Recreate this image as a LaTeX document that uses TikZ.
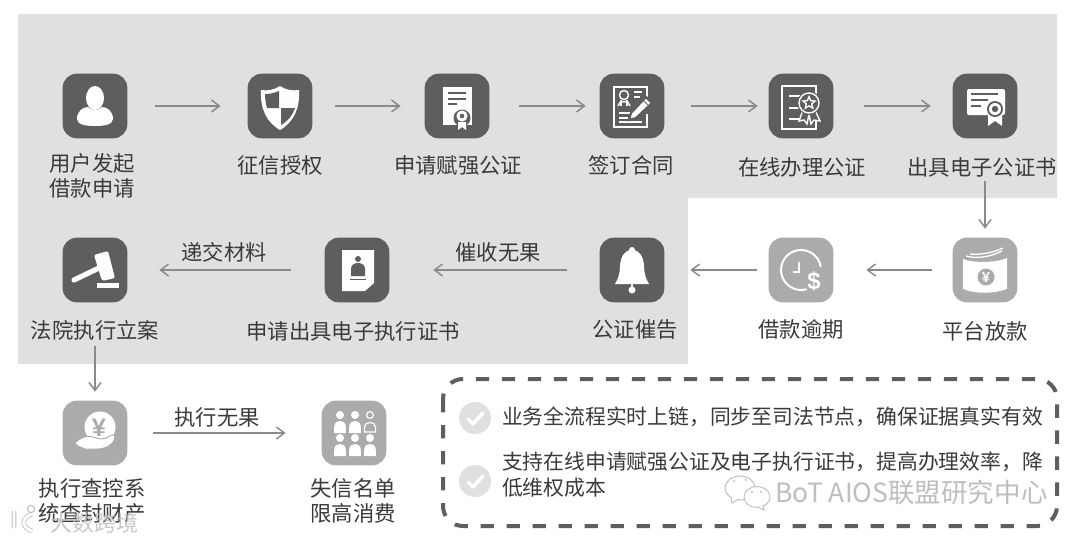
\documentclass[tikz,border=0pt]{standalone}
\usepackage{fontspec}
\setmainfont{Noto Sans CJK SC}
\newfontfamily\wmfont{Liberation Sans}
\usetikzlibrary{arrows.meta,calc,shapes.geometric}
\definecolor{bgc}{HTML}{E0E0E0}
\definecolor{dk}{HTML}{5F5D5E}
\definecolor{lt}{HTML}{ABABAB}
\definecolor{txt}{HTML}{3A3A3A}
\definecolor{arr}{HTML}{8A8A8A}
\definecolor{wm}{HTML}{BEBEBE}
\tikzset{
  x=0.75pt,y=-0.75pt,
  iconbox/.style={minimum size=48.5pt,inner sep=0pt,outer sep=0pt,rounded corners=10.5pt,fill=#1},
  iconbox/.default=dk,
  lab/.style={inner sep=0pt,outer sep=0pt,text=txt,align=center,font=\fontsize{16}{18.8}\selectfont},
  note/.style={inner sep=0pt,outer sep=0pt,text=txt,align=left,anchor=west,font=\fontsize{15.6}{19.5}\selectfont},
  flow/.style 2 args={draw=arr,line width=1.5pt,-{Straight Barb[length=6pt,width=9pt,line width=1.1pt]},shorten <=#1*0.75pt,shorten >=#2*0.75pt},
  wh/.style={fill=white,draw=none},
  ln/.style={draw=white,line width=1.05pt,fill=none},
  gr/.style={fill=#1,draw=none},
  fig/.pic={\fill[white] (0,-8) circle (4); \fill[white] (-5.8,10) -- (-5.8,4) .. controls (-5.8,-0.5) and (-3,-2) .. (0,-2) .. controls (3,-2) and (5.8,-0.5) .. (5.8,4) -- (5.8,10) -- cycle;},
}
\begin{document}
\begin{tikzpicture}
\useasboundingbox (0,0) rectangle (1080,540);
\fill[white] (0,0) rectangle (1080,540);
\fill[bgc] (18,14) -- (1057,14) -- (1057,198) -- (688,198) -- (688,364) -- (18,364) -- cycle;

% icon boxes
\node[iconbox] (i1) at (95,106) {};
\node[iconbox] (i2) at (280,106) {};
\node[iconbox] (i3) at (457,106) {};
\node[iconbox] (i4) at (632,106) {};
\node[iconbox] (i5) at (801,106) {};
\node[iconbox] (i6) at (985,106) {};
\node[iconbox=lt] (i7) at (985,270) {};
\node[iconbox=lt] (i8) at (801,270) {};
\node[iconbox] (i9) at (632,270) {};
\node[iconbox] (i10) at (357,270) {};
\node[iconbox] (i11) at (95,270) {};
\node[iconbox=lt] (i12) at (95,433) {};
\node[iconbox=lt] (i13) at (354,433) {};

% labels
\node[lab] (l1) at (92,176) {用户发起\\借款申请};
\node[lab] (l2) at (280,165) {征信授权};
\node[lab] (l3) at (458,165) {申请赋强公证};
\node[lab] (l4) at (631,165) {签订合同};
\node[lab] (l5) at (802,167) {在线办理公证};
\node[lab] (l6) at (982,167) {出具电子公证书};
\node[lab] (l7) at (985,331) {平台放款};
\node[lab] (l8) at (801,329) {借款逾期};
\node[lab] (l9) at (635,329) {公证催告};
\node[lab] (l10) at (353,331) {申请出具电子执行证书};
\node[lab] (l11) at (95,330) {法院执行立案};
\node[lab] (l12) at (92,501) {执行查控系\\统查封财产};
\node[lab] (l13) at (353,501) {失信名单\\限高消费};
\node[lab] (e1) at (224,252) {递交材料};
\node[lab] (e2) at (498,252) {催收无果};
\node[lab] (e3) at (217,417) {执行无果};

% connectors
\draw[flow={28}{27}] (i1) -- (i2);
\draw[flow={23}{24}] (i2) -- (i3);
\draw[flow={30}{14}] (i3) -- (i4);
\draw[flow={27}{11}] (i4) -- (i5);
\draw[flow={31}{22}] (i5) -- (i6);
\draw[flow={4}{9}] (i7 |- l6.south) -- (i7);
\draw[flow={21}{33}] (i7) -- (i8);
\draw[flow={12}{26}] (i8) -- (i9);
\draw[flow={33}{44}] (i9) -- (i10);
\draw[flow={34}{32}] (i10) -- (i11);
\draw[flow={6}{9}] (i11 |- l11.south) -- (i12);
\draw[flow={26}{36}] (i12) -- (i13);

% icon 1 person
\begin{scope}[shift={(i1.center)}]
\fill[wh] (0,-8) ellipse (9 and 12);
\path[wh] (-18,13) .. controls (-18,5) and (-12,1) .. (-7,1) .. controls (-3,5) and (3,5) .. (7,1) .. controls (12,1) and (18,5) .. (18,13) .. controls (18,19) and (8,20) .. (0,20) .. controls (-8,20) and (-18,19) .. (-18,13) -- cycle;
\end{scope}
% icon 2 shield
\begin{scope}[shift={(i2.center)}]
\path[wh] (0,-20) .. controls (6,-16) and (12,-15) .. (19,-16) .. controls (20,2) and (14,16) .. (0,24) .. controls (-14,16) and (-20,2) .. (-19,-16) .. controls (-12,-15) and (-6,-16) .. (0,-20) -- cycle;
\path[gr=dk] (-1,-15) .. controls (-6,-13) and (-10,-12) .. (-15,-12) .. controls (-15,-6) and (-14,-2) .. (-13,2) -- (-1,2) -- cycle;
\path[gr=dk] (1,2) -- (15,2) .. controls (13,9) and (8,15) .. (1,19) -- cycle;
\end{scope}
% icon 3 document
\begin{scope}[shift={(i3.center)}]
\path[wh] (-14,-19) -- (15,-19) -- (15,19) -- (-14,19) -- cycle;
\foreach \yy/\xx in {-13/9,-7/9,-2/0} \fill[dk] (-9,\yy-1) rectangle (\xx,\yy+1);
\fill[dk] (5,12) circle (8.5);
\fill[white] (5,10) circle (5.6);
\fill[dk] (5,10) circle (2.3);
\path[wh] (1,16) -- (9,16) -- (9,24) -- (5,21) -- (1,24) -- cycle;
\end{scope}
% icon 4 contract
\begin{scope}[shift={(i4.center)}]
\draw[ln] (15,-3) -- (15,-19) -- (-18,-19) -- (-18,21) -- (15,21) -- (15,8);
\draw[ln] (-8,-11) circle (4.5);
\draw[ln] (-14,0) .. controls (-14,-6) and (-2,-6) .. (-2,0);
\draw[ln] (-11,-6) -- (-11,0) (-5,-6) -- (-5,0);
\draw[ln] (2,-14) -- (10,-14) (2,-9) -- (8,-9);
\draw[ln] (-13,7) -- (-2,7) (-13,12) -- (-4,12) (-13,16) -- (10,16);
\path[draw=dk,line width=1.6pt,fill=white] (-3,14) -- (-1,7) -- (14,-9) -- (20,-3) -- (4,12) -- cycle;
\draw[dk,line width=.6pt] (11,-6) -- (17,0);
\end{scope}
% icon 5 certificate outline
\begin{scope}[shift={(i5.center)}]
\draw[ln] (-19,-20) rectangle (15,23);
\draw[ln] (-12,-10) -- (0,-10) (-12,2) -- (-2,2) (-12,13) -- (-2,13);
\path[draw=white,line width=1.05pt,fill=dk] (2,4) -- (-2,15) -- (3,14) -- (6,18) -- (8,8) -- (10,18) -- (13,14) -- (19,15) -- (14,4) -- cycle;
\fill[dk] (8,-3) circle (12);
\draw[ln] (8,-3) circle (10);
\node[star,star points=5,star point ratio=2.2,draw=white,line width=1pt,fill=none,minimum size=9.5pt,inner sep=0pt] (star5) at (8,-3) {};
\end{scope}
% icon 6 certificate solid
\begin{scope}[shift={(i6.center)}]
\path[wh,rounded corners=1.5pt] (-18,-17) -- (20,-17) -- (20,9) -- (-18,9) -- cycle;
\path[wh] (3,6) -- (17,6) -- (17,20) -- (10,15) -- (3,20) -- cycle;
\fill[dk] (-14,-13) rectangle (13,-11);
\fill[dk] (-14,-7) rectangle (3,-5);
\fill[dk] (-14,-1) rectangle (-4,1);
\fill[dk] (10,3) circle (8);
\fill[white] (10,3) circle (6);
\fill[dk] (10,3) circle (3.2);
\end{scope}
% icon 7 money
\begin{scope}[shift={(i7.center)}]
\path[wh] (-22,-11) .. controls (-14,-7) and (12,-7) .. (22,-12) -- (22,19) .. controls (8,24) and (-10,24) .. (-22,19) -- cycle;
\draw[white,line width=1pt] (-19,-14) .. controls (-8,-11) and (5,-13) .. (17,-19);
\draw[white,line width=1pt] (-15,-16) .. controls (-6,-15) and (8,-17) .. (18,-22);
\fill[lt] (1,7) circle (8.5);
\node[inner sep=0pt,text=white,font=\wmfont\bfseries\fontsize{11}{11}\selectfont] (y7) at (1,7) {¥};
\end{scope}
% icon 8 clock dollar
\begin{scope}[shift={(i8.center)}]
\draw[white,line width=1.5pt,line cap=round] (19.7,-3.5) arc (-10:-285:20 and 20);
\draw[white,line width=1.5pt] (-2,-8) -- (-2,2) -- (-8,2);
\node[inner sep=0pt,text=white,font=\wmfont\bfseries\fontsize{18}{18}\selectfont] (d8) at (13,11) {\$};
\end{scope}
% icon 9 bell
\begin{scope}[shift={(i9.center)}]
\path[wh] (0,-20) .. controls (8,-20) and (11,-13) .. (12,-5) .. controls (12,4) and (14,9) .. (17,14) -- (-17,14) .. controls (-14,9) and (-12,4) .. (-12,-5) .. controls (-11,-13) and (-8,-20) .. (0,-20) -- cycle;
\fill[white] (0,-20) circle (3);
\fill[white] (0,20) circle (3.5);
\fill[white] (-1,14) rectangle (1,18);
\end{scope}
% icon 10 document person
\begin{scope}[shift={(i10.center)}]
\path[wh] (-15,-20) -- (17,-20) -- (17,13) -- (8,21) -- (-15,21) -- cycle;
\fill[dk] (1,-11) circle (3);
\path[gr=dk] (-6,6) -- (-6,-1) .. controls (-6,-5) and (-3,-7) .. (1,-7) .. controls (5,-7) and (8,-5) .. (8,-1) -- (8,6) -- cycle;
\fill[dk] (-7,8.5) rectangle (9,10);
\end{scope}
% icon 11 gavel
\begin{scope}[shift={(i11.center)}]
\draw[white,line width=3.9pt,line cap=round] (-21,10) -- (6,-3);
\path[wh,rounded corners=1.5pt] (-1,-15) -- (13,-19) -- (20,8) -- (7,11) -- cycle;
\fill[white] (2,13) rectangle (24,18);
\end{scope}
% icon 12 coin hand
\begin{scope}[shift={(i12.center)}]
\fill[white] (5,-6) circle (15.5);
\node[inner sep=0pt,text=lt,font=\wmfont\bfseries\fontsize{19}{19}\selectfont] (y12) at (4,-5) {¥};
\path[draw=lt,line width=.7pt,fill=white] (-20,10) .. controls (-14,4) and (-8,2) .. (-2,4) .. controls (4,6) and (10,7) .. (13,4) .. controls (16,2) and (20,1) .. (20,4) .. controls (20,10) and (12,16) .. (2,16) -- (-10,16) .. controls (-14,14) and (-18,14) .. (-20,10) -- cycle;
\end{scope}
% icon 13 people
\begin{scope}[shift={(i13.center)}]
\pic at (-14,-10) {fig};
\pic at (1,-10) {fig};
\pic at (-14,13) {fig};
\pic at (1,13) {fig};
\pic at (16,13) {fig};
\draw[white,line width=.9pt] (16,-18) circle (3.4);
\draw[white,line width=.9pt] (10.5,-1) -- (10.5,-6) .. controls (10.5,-12) and (21.5,-12) .. (21.5,-6) -- (21.5,-1) -- cycle;
\end{scope}

% note box
\draw[dk,line width=3pt,dash pattern=on 10pt off 9.5pt,rounded corners=15pt] (443,379) rectangle (1057,526);
\node[inner sep=0pt,minimum size=24pt,circle,fill=bgc] (c1) at (475,418) {};
\node[inner sep=0pt,minimum size=24pt,circle,fill=bgc] (c2) at (475,481) {};
\draw[white,line width=2.6pt,line cap=round,line join=round] ($(c1)+(-7,1)$) -- ($(c1)+(-2,6)$) -- ($(c1)+(8,-5)$);
\draw[white,line width=2.6pt,line cap=round,line join=round] ($(c2)+(-7,1)$) -- ($(c2)+(-2,6)$) -- ($(c2)+(8,-5)$);
\node[note] (n1) at (502,417) {业务全流程实时上链，同步至司法节点，确保证据真实有效};
\node[note] (n2) at (502,475) {支持在线申请赋强公证及电子执行证书，提高办理效率，降\\低维权成本};

% watermarks
\node[inner sep=0pt,anchor=west,text=wm,font=\fontsize{19.9}{20}\selectfont] (w1) at (775,492) {BoT AIOS联盟研究中心};
\draw[wm,line width=.7pt,fill=white] (740,488) ellipse (15 and 12);
\draw[wm,line width=.7pt,fill=white] (731,497) -- (732,503) -- (739,499);
\draw[wm,line width=.7pt,fill=white] (757,497) ellipse (13 and 10.5);
\draw[wm,line width=.7pt,fill=white] (758,507) -- (764,510) -- (763,505);
\fill[wm] (734,481) circle (1.2) (746,480) circle (1.2) (752,492) circle (1.1) (761,492) circle (1.1);
\node[inner sep=0pt,anchor=west,text=wm,opacity=.85,font=\fontsize{16.5}{18}\selectfont] (w2) at (50,523) {大数跨境};
\draw[wm,line width=3.4pt] (14,511) -- (14,528) (32,514) .. controls (21,518) and (21,527) .. (32,531);
\draw[white,line width=2.2pt] (14,511) -- (14,528) (32,514) .. controls (21,518) and (21,527) .. (32,531);
\draw[wm,line width=.8pt,fill=white] (31,509) circle (3.6);
\end{tikzpicture}
\end{document}
